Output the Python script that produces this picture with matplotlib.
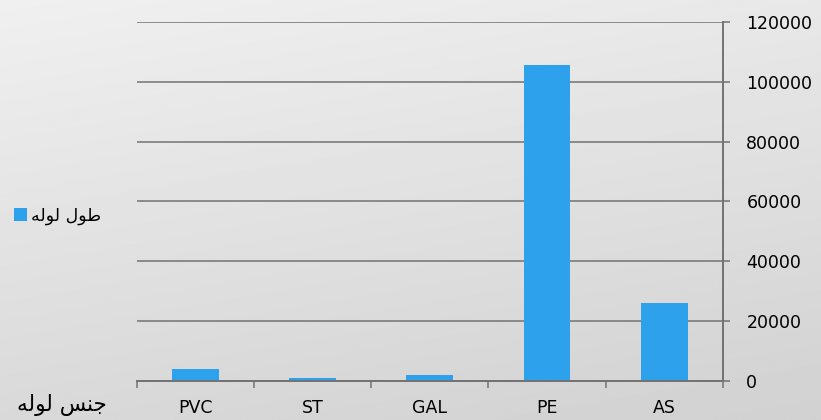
import numpy as np
import matplotlib
matplotlib.use('Agg')
from matplotlib import pyplot as plt

# pipe length by material
materials = ['PVC', 'ST', 'GAL', 'PE', 'AS']
lengths = [4000, 1000, 2000, 105500, 26000]
y_ticks = [0, 20000, 40000, 60000, 80000, 100000, 120000]
series_name = 'طول لوله'
axis_name = 'جنس لوله'

BAR_COLOR = '#2ea1ec'
LINE_COLOR = '#727272'

# matplotlib has no arabic shaping, so pick the presentation forms by hand
# (isolated, final, initial, medial)
_FORMS = {
    'ج': '\uFE9D\uFE9E\uFE9F\uFEA0',
    'ن': '\uFEE5\uFEE6\uFEE7\uFEE8',
    'س': '\uFEB1\uFEB2\uFEB3\uFEB4',
    'ط': '\uFEC1\uFEC2\uFEC3\uFEC4',
    'ل': '\uFEDD\uFEDE\uFEDF\uFEE0',
    'ه': '\uFEE9\uFEEA\uFEEB\uFEEC',
    'و': '\uFEED\uFEEE',
}


def shape_arabic(text):
    def dual(c):
        return c in _FORMS and len(_FORMS[c]) == 4
    out = []
    for i, c in enumerate(text):
        if c not in _FORMS:
            out.append(c)
            continue
        prev = text[i - 1] if i > 0 else ''
        nxt = text[i + 1] if i + 1 < len(text) else ''
        jp = dual(prev)
        jn = dual(c) and nxt in _FORMS
        forms = _FORMS[c]
        if jp and jn:
            out.append(forms[3])
        elif jn:
            out.append(forms[2])
        elif jp:
            out.append(forms[1])
        else:
            out.append(forms[0])
    return ''.join(reversed(out))


plt.rcParams['font.family'] = ['DejaVu Sans']

fig = plt.figure(figsize=(8.21, 4.2), dpi=100)

# soft grey gradient behind everything
bg = fig.add_axes([0, 0, 1, 1], zorder=-10)
grad = np.linspace(0, 1, 256)
gx, gy = np.meshgrid(grad, grad)
shade = 0.94 - 0.12 * (0.75 * gy + 0.25 * gx)
bg.imshow(shade, cmap='gray', vmin=0, vmax=1, aspect='auto',
          extent=[0, 1, 0, 1], origin='upper')
bg.set_axis_off()

ax = fig.add_axes([0.1669, 0.0929, 0.7133, 0.8547])
ax.patch.set_alpha(0)

x = np.arange(len(materials))
ax.bar(x, lengths, width=0.4, color=BAR_COLOR, zorder=3, label=shape_arabic(series_name))

ax.set_xlim(-0.5, len(materials) - 0.5)
ax.set_ylim(0, 120000)

ax.set_yticks(y_ticks)
ax.set_yticklabels([str(v) for v in y_ticks])
ax.yaxis.tick_right()
ax.grid(axis='y', color=LINE_COLOR, lw=1.1, zorder=0)

ax.set_xticks(x)
ax.set_xticklabels(materials)
ax.set_xticks(np.arange(len(materials) + 1) - 0.5, minor=True)
ax.tick_params(axis='x', which='major', length=0, pad=13, labelsize=12.5)
ax.tick_params(axis='x', which='minor', length=5, width=1.1, color=LINE_COLOR,
               direction='out')
ax.tick_params(axis='y', length=5, width=1.1, color=LINE_COLOR, pad=12,
               labelsize=12.5)

for side in ('top', 'left'):
    ax.spines[side].set_visible(False)
for side in ('bottom', 'right'):
    ax.spines[side].set_color(LINE_COLOR)
    ax.spines[side].set_linewidth(1.4)
    ax.spines[side].set_zorder(4)

ax.legend(loc='center left', bbox_to_anchor=(14 / 821, 1 - 216 / 420),
          bbox_transform=fig.transFigure, frameon=False, borderpad=0,
          borderaxespad=0, handlelength=0.75, handleheight=0.75,
          handletextpad=0.25, fontsize=12.5)

fig.text(17 / 821, 1 - 405 / 420, shape_arabic(axis_name), fontsize=15.5,
         ha='left', va='center')

fig.savefig('out.png', dpi=100)
